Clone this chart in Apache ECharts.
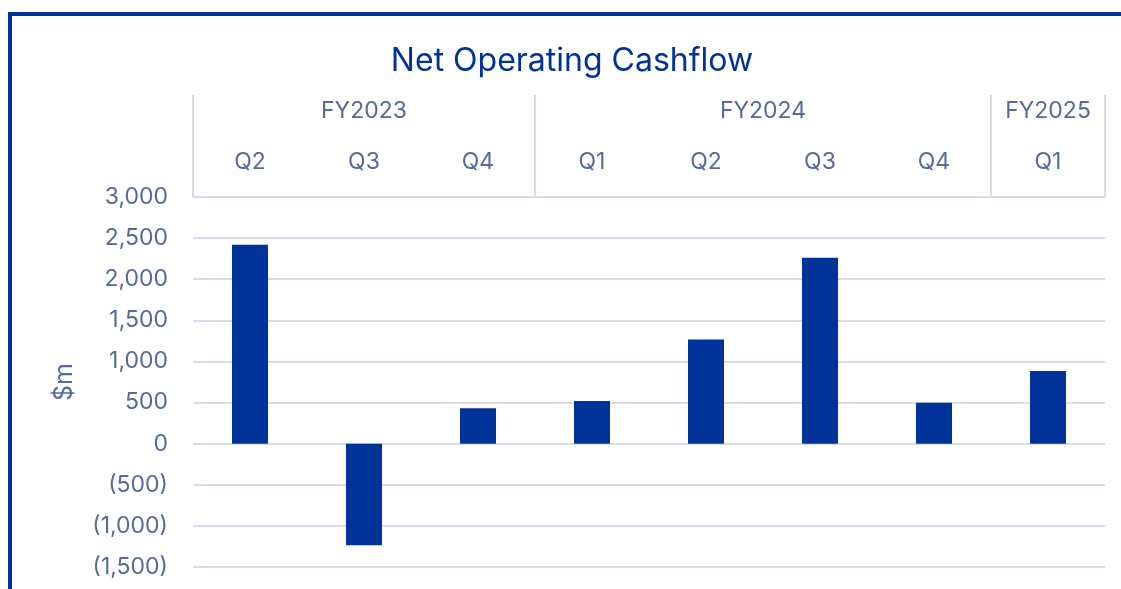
<!DOCTYPE html>
<html>
<head>
<meta charset="utf-8">
<script src="https://cdn.jsdelivr.net/npm/echarts@6/dist/echarts.min.js"></script>
<style>
html,body{margin:0;padding:0;background:#fff;}
#chart{width:1121px;height:589px;}
</style>
</head>
<body>
<div id="chart"></div>
<script>
const quarters = ['Q2','Q3','Q4','Q1','Q2','Q3','Q4','Q1'];
const fiscalYears = ['FY2023','FY2024','FY2025'];
const fyQuarterCounts = [3,4,1];
const cashflow = [2420,-1235,430,520,1268,2260,498,885];
const yTicks = {min:-1500, max:3000, interval:500};

const blue = '#003399';
const textCol = '#56699a';
const gridCol = '#d9dcea';
const font = 'Inter';

// FY group boundaries and centres (in category units)
const bounds = [0];
fyQuarterCounts.forEach(c => bounds.push(bounds[bounds.length-1] + c));
const centres = fiscalYears.map((_, i) => (bounds[i] + bounds[i+1]) / 2);

function fmt(v){
  const s = Math.abs(v).toLocaleString('en-US');
  return v < 0 ? '(' + s + ')' : s;
}

const chart = echarts.init(document.getElementById('chart'));
chart.setOption({
  animation:false,
  title:{
    text:'Net Operating Cashflow',
    left:567, top:40, textAlign:'center',
    textStyle:{color:blue, fontFamily:font, fontSize:32, fontWeight:'normal'}
  },
  graphic:[
    {type:'line', shape:{x1:10, y1:12, x2:10, y2:589}, style:{stroke:blue, lineWidth:4}},
    {type:'line', shape:{x1:8, y1:14, x2:1121, y2:14}, style:{stroke:blue, lineWidth:4}}
  ],
  grid:{left:193, right:16, top:197, bottom:22},
  xAxis:[
    {type:'category', data:quarters, position:'bottom', show:false},
    {type:'category', data:quarters, position:'top', gridIndex:0,
      axisLine:{show:false}, axisTick:{show:false},
      axisLabel:{color:textCol, fontFamily:font, fontSize:23, margin:23}},
    {type:'value', min:0, max:bounds[bounds.length-1], position:'top', offset:102,
      axisLine:{show:false}, splitLine:{show:false},
      axisTick:{show:true, inside:true, length:102, customValues:bounds, lineStyle:{color:gridCol, width:2}},
      axisLabel:{inside:true, margin:5, customValues:centres, color:textCol, fontFamily:font, fontSize:23,
        verticalAlign:'top',
        formatter:function(v){ const i = centres.indexOf(v); return i>=0 ? fiscalYears[i] : ''; }}}
  ],
  yAxis:{
    type:'value', min:yTicks.min, max:yTicks.max, interval:yTicks.interval,
    name:'$m', nameLocation:'middle', nameRotate:90, nameGap:116,
    nameTextStyle:{color:textCol, fontFamily:font, fontSize:25},
    axisLine:{show:false}, axisTick:{show:false},
    axisLabel:{color:textCol, fontFamily:font, fontSize:23, margin:25, formatter:fmt},
    splitLine:{lineStyle:{color:gridCol, width:2}}
  },
  series:[{
    type:'bar', data:cashflow, barWidth:36, xAxisIndex:0,
    itemStyle:{color:blue}
  }]
});
</script>
</body>
</html>
